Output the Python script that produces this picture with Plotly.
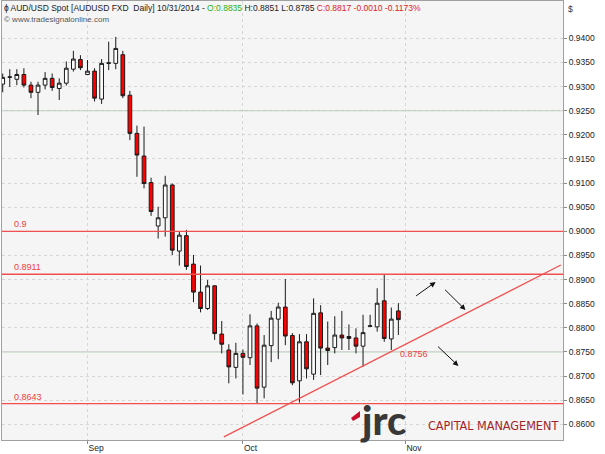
import plotly.graph_objects as go
import pandas as pd

# ---------------- data ----------------
dates = pd.bdate_range("2014-08-14", "2014-10-31")
open_ = [0.9305, 0.9319, 0.9315, 0.9325, 0.9303, 0.9288, 0.9303, 0.9317, 0.9296, 0.9307,
         0.9336, 0.9356, 0.9325, 0.9332, 0.9274, 0.9348, 0.9348, 0.9366, 0.9282, 0.9203,
         0.9156, 0.9101, 0.9011, 0.9028, 0.9096, 0.8959, 0.8991, 0.8932, 0.8874, 0.8840,
         0.8887, 0.8787, 0.8754, 0.8718, 0.8747, 0.8738, 0.8804, 0.8677, 0.8763, 0.8818,
         0.8843, 0.8784, 0.8690, 0.8771, 0.8704, 0.8831, 0.8758, 0.8759, 0.8785, 0.8782,
         0.8779, 0.8762, 0.8803, 0.8802, 0.8856, 0.8777, 0.8835]
high = [0.9327, 0.9336, 0.9336, 0.9338, 0.9310, 0.9310, 0.9330, 0.9327, 0.9317, 0.9352,
        0.9374, 0.9365, 0.9355, 0.9338, 0.9357, 0.9393, 0.9403, 0.9374, 0.9291, 0.9219,
        0.9217, 0.9111, 0.9051, 0.9115, 0.9099, 0.8999, 0.9003, 0.8951, 0.8929, 0.8899,
        0.8888, 0.8814, 0.8766, 0.8769, 0.8755, 0.8828, 0.8809, 0.8785, 0.8835, 0.8852,
        0.8901, 0.8789, 0.8787, 0.8787, 0.8861, 0.8847, 0.8813, 0.8824, 0.8835, 0.8807,
        0.8799, 0.8827, 0.8827, 0.8882, 0.8911, 0.8842, 0.8851]
low = [0.9288, 0.9299, 0.9303, 0.9298, 0.9276, 0.9241, 0.9294, 0.9291, 0.9272, 0.9302,
       0.9331, 0.9334, 0.9324, 0.9269, 0.9264, 0.9334, 0.9336, 0.9276, 0.9189, 0.9113,
       0.9089, 0.9032, 0.8985, 0.8989, 0.8951, 0.8929, 0.8920, 0.8853, 0.8832, 0.8837,
       0.8775, 0.8747, 0.8685, 0.8695, 0.8662, 0.8723, 0.8643, 0.8654, 0.8729, 0.8735,
       0.8764, 0.8681, 0.8645, 0.8695, 0.8692, 0.8702, 0.8723, 0.8747, 0.8754, 0.8754,
       0.8747, 0.8719, 0.8802, 0.8792, 0.8771, 0.8754, 0.8785]
close = [0.9319, 0.9320, 0.9325, 0.9303, 0.9288, 0.9303, 0.9317, 0.9298, 0.9307, 0.9338,
         0.9357, 0.9339, 0.9332, 0.9276, 0.9348, 0.9349, 0.9379, 0.9281, 0.9203, 0.9158,
         0.9099, 0.9041, 0.9028, 0.9096, 0.8961, 0.8992, 0.8927, 0.8874, 0.8840, 0.8887,
         0.8788, 0.8766, 0.8719, 0.8747, 0.8739, 0.8804, 0.8675, 0.8764, 0.8820, 0.8843,
         0.8783, 0.8686, 0.8771, 0.8715, 0.8830, 0.8758, 0.8753, 0.8785, 0.8779, 0.8778,
         0.8762, 0.8790, 0.8804, 0.8851, 0.8778, 0.8818, 0.8817]

month_ticks = ["2014-09-01", "2014-10-01", "2014-11-03"]
month_labels = ["Sep", "Oct", "Nov"]

red_levels = [0.9, 0.8911, 0.8643]
red_level_labels = ["0.9", "0.8911", "0.8643"]
green_levels = [0.925, 0.875]

trend_x = [31.3, 79.0]
trend_y = [0.8574, 0.8930]
trend_label = "0.8756"

y_tick_labels = ["0.8600", "0.8650", "0.8700", "0.8750", "0.8800", "0.8850", "0.8900",
                 "0.8950", "0.9000", "0.9050", "0.9100", "0.9150", "0.9200", "0.9250",
                 "0.9300", "0.9350", "0.9400"]

header_main = "AUD/USD Spot [AUDUSD FXD  Daily] 10/31/2014 - "
header_o = "O:0.8835"
header_hl = " H:0.8851 L:0.8785 "
header_c = "C:0.8817 -0.0010 -0.1173%"

# --------------- figure ---------------
all_days = pd.bdate_range("2014-08-14", "2014-11-03")
xidx = list(range(len(dates)))
tick_pos = [list(all_days).index(pd.Timestamp(d)) for d in month_ticks]
y_tick_vals = [float(t) for t in y_tick_labels]

fig = go.Figure()
fig.add_trace(go.Candlestick(
    x=xidx, open=open_, high=high, low=low, close=close,
    increasing=dict(fillcolor="#ffffff", line=dict(color="#1a1a1a", width=1)),
    decreasing=dict(fillcolor="#ff0000", line=dict(color="#1a1a1a", width=1)),
    whiskerwidth=0, showlegend=False,
    text=[d.strftime("%m/%d/%Y") for d in dates], hoverinfo="text+y",
))

PL, PR, PT, PB = 2, 563, 1, 440
W, H = 605, 454
FONT = "Liberation Sans, Arial, sans-serif"

fig.update_layout(
    width=W, height=H,
    margin=dict(l=PL, r=W - PR, t=PT, b=H - PB, autoexpand=False),
    paper_bgcolor="#ffffff", plot_bgcolor="#f5f5f5",
    boxgap=0.25,
    font=dict(family=FONT, size=9, color="#222"),
    xaxis=dict(
        range=[-0.1, 79.3], rangeslider=dict(visible=False),
        tickvals=tick_pos, ticktext=month_labels,
        ticks="outside", ticklen=3, tickcolor="#888",
        ticklabelposition="outside right",
        showgrid=True, gridcolor="#d6d6d6", griddash="dot", gridwidth=1,
        showline=True, linecolor="#a0a0a0", mirror=True, zeroline=False,
        tickfont=dict(size=8.5, color="#222"),
    ),
    yaxis=dict(
        side="right", range=[0.85675, 0.94773],
        tickvals=y_tick_vals, ticktext=y_tick_labels,
        ticks="outside", ticklen=3, tickcolor="#888",
        showgrid=True, gridcolor="#d6d6d6", griddash="dot", gridwidth=1,
        showline=True, linecolor="#a0a0a0", mirror=True, zeroline=False,
        tickfont=dict(size=8.5, color="#222"),
    ),
    hovermode="closest",
)

for lv in green_levels:
    fig.add_hline(y=lv, line=dict(color="#b9d3b9", width=1.2), layer="below")

for lv, lab in zip(red_levels, red_level_labels):
    fig.add_hline(y=lv, line=dict(color="#f05050", width=1.3), layer="above")
    fig.add_annotation(x=0.017, xref="paper", y=lv, yref="y", text=lab,
                       showarrow=False, xanchor="left", yanchor="bottom", yshift=0,
                       font=dict(color="#f04040", size=9))

# trendline
fig.add_shape(type="line", x0=trend_x[0], y0=trend_y[0], x1=trend_x[1], y1=trend_y[1],
              xref="x", yref="y", line=dict(color="#f05050", width=1.2))
fig.add_annotation(x=56.0, y=0.8756, xref="x", yref="y", text=trend_label,
                   showarrow=False, xanchor="left", yanchor="top", yshift=2,
                   font=dict(color="#f04040", size=9))

# arrows
arrows = [((58.3, 0.8864), (61.27, 0.8895)),
          ((62.4, 0.8882), (65.5, 0.8837)),
          ((61.4, 0.8764), (64.5, 0.8721))]
for (tx, ty), (hx, hy) in arrows:
    fig.add_annotation(x=hx, y=hy, ax=tx, ay=ty, xref="x", yref="y", axref="x", ayref="y",
                       text="", showarrow=True, arrowhead=2, arrowsize=1.1, arrowwidth=1,
                       arrowcolor="#111")

def px(xp):
    return (xp - PL) / (PR - PL)

def py(yp):
    return (PB - yp) / (PB - PT)

# header
fig.add_annotation(
    x=px(2), y=py(1), xref="paper", yref="paper", xanchor="left", yanchor="top",
    showarrow=False, align="left",
    text=("ɸ " + header_main + "<span style='color:#22b022'>" + header_o + "</span>"
          + header_hl + "<span style='color:#e02020'>" + header_c + "</span>"),
    font=dict(size=8.5, color="#222", family=FONT),
)
fig.add_annotation(
    x=px(2), y=py(13), xref="paper", yref="paper", xanchor="left", yanchor="top",
    showarrow=False, text="© www.tradesignalonline.com",
    font=dict(size=8, color="#555"),
)
# $ label
fig.add_annotation(
    x=px(566), y=py(2), xref="paper", yref="paper", xanchor="left", yanchor="top",
    showarrow=False, text="$", font=dict(size=8.5, color="#333"),
)

# logo
fig.add_shape(type="path", xref="paper", yref="paper",
              path=(f"M {px(351)} {py(418)} L {px(360)} {py(411)} L {px(360)} {py(417)} "
                    f"L {px(353)} {py(421)} Z"),
              fillcolor="#c8102e", line=dict(width=0))
fig.add_annotation(
    x=px(359), y=py(420), xref="paper", yref="paper", xanchor="left", yanchor="middle",
    showarrow=False, text="jrc", borderpad=0,
    font=dict(size=40, color="#383838", family="Lato, Liberation Sans, sans-serif",
              weight=900),
)
fig.add_annotation(
    x=px(426), y=py(425), xref="paper", yref="paper", xanchor="left", yanchor="middle",
    showarrow=False, text="CAPITAL MANAGEMENT",
    font=dict(size=12.5, color="#a31f2b",
              family="Liberation Sans Narrow, DejaVu Sans Condensed, Roboto, sans-serif"),
)

fig.write_html("out.html", config={"displayModeBar": False},
               post_script="document.body.style.margin='0';document.body.style.overflow='hidden';")
